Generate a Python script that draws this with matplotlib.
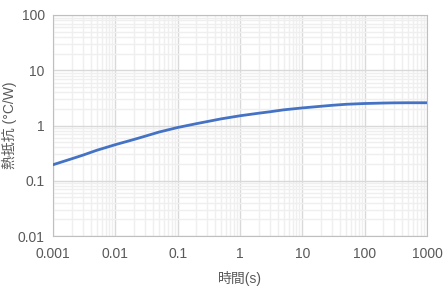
import matplotlib
matplotlib.use("Agg")
import matplotlib.pyplot as plt
from matplotlib.ticker import LogLocator, FixedLocator, FixedFormatter, NullFormatter

plt.rcParams['font.family'] = ['Liberation Sans', 'Noto Sans CJK JP', 'DejaVu Sans']

time_s = [0.001, 0.002, 0.003, 0.005, 0.01, 0.02, 0.03, 0.05, 0.1, 0.2, 0.3, 0.5,
          1, 2, 3, 5, 10, 20, 30, 50, 100, 200, 300, 500, 1000]
rth = [0.195, 0.25, 0.29, 0.355, 0.45, 0.56, 0.64, 0.76, 0.92, 1.08, 1.18, 1.32,
       1.5, 1.67, 1.77, 1.92, 2.08, 2.23, 2.32, 2.42, 2.5, 2.55, 2.57, 2.58, 2.58]

x_ticks = [0.001, 0.01, 0.1, 1, 10, 100, 1000]
x_labels = ["0.001", "0.01", "0.1", "1", "10", "100", "1000"]
y_ticks = [0.01, 0.1, 1, 10, 100]
y_labels = ["0.01", "0.1", "1", "10", "100"]

fig = plt.figure(figsize=(4.48, 2.88), dpi=100)
ax = fig.add_axes([53 / 448, 1 - 236 / 288, 374 / 448, 221 / 288])

ax.plot(time_s, rth, color="#4472C4", lw=2, solid_capstyle="round", zorder=3)

ax.set_xscale("log")
ax.set_yscale("log")
ax.set_xlim(0.001, 1000)
ax.set_ylim(0.01, 100)

ax.xaxis.set_major_locator(FixedLocator(x_ticks))
ax.xaxis.set_major_formatter(FixedFormatter(x_labels))
ax.yaxis.set_major_locator(FixedLocator(y_ticks))
ax.yaxis.set_major_formatter(FixedFormatter(y_labels))
ax.xaxis.set_minor_locator(LogLocator(base=10, subs=range(2, 10), numticks=20))
ax.yaxis.set_minor_locator(LogLocator(base=10, subs=range(2, 10), numticks=20))
ax.xaxis.set_minor_formatter(NullFormatter())
ax.yaxis.set_minor_formatter(NullFormatter())

ax.grid(which="major", color="#d9d9d9", lw=1)
ax.grid(which="minor", color="#efefef", lw=1)
ax.set_axisbelow(True)

for s in ax.spines.values():
    s.set_color("#bfbfbf")
ax.tick_params(which="both", length=0, labelsize=10, colors="#595959")
ax.tick_params(axis="x", pad=8)
ax.tick_params(axis="y", pad=6)

ax.set_xlabel("時間(s)", fontsize=10, color="#595959")
ax.xaxis.set_label_coords(0.5, -0.16)
ax.set_ylabel("熱抵抗 (°C/W)", fontsize=10, color="#595959")
ax.yaxis.set_label_coords(-0.095, 0.5)

plt.savefig("out.png", dpi=100)
